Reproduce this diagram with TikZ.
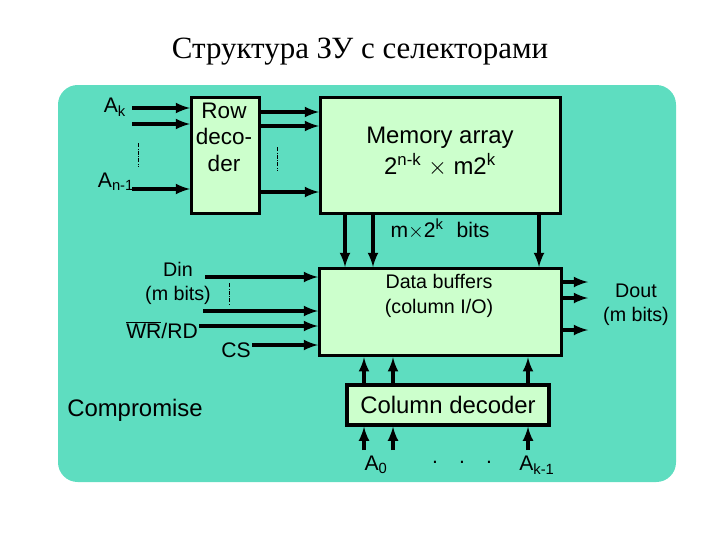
\documentclass[tikz,border=0pt]{standalone}
\usepackage{fontspec}
\setmainfont{Liberation Sans}
\newfontfamily\titlefont{Liberation Serif}
\usetikzlibrary{positioning}
\definecolor{bgteal}{HTML}{5EDDC0}
\definecolor{boxgreen}{HTML}{CCFFCC}
\tikzset{
  blk/.style={draw, line width=2.4pt, fill=boxgreen, inner sep=0pt, align=center},
  wire/.style={line width=2.4pt, -latex},
  dots/.style={densely dashdotted, thin},
  lbl/.style={font=\fontsize{15}{17}\selectfont, align=center, inner sep=1pt}
}
\begin{document}
\begin{tikzpicture}[x=0.025cm, y=-0.025cm]
\useasboundingbox (0,0) rectangle (720,540);
\fill[bgteal, rounded corners=14pt] (58,85) rectangle (676,482);
\node[font=\titlefont\fontsize{22}{26}\selectfont] (title) at (360,52) {Структура ЗУ с селекторами};
% blocks
\node[blk, minimum width=68*0.025cm, minimum height=116*0.025cm, anchor=north west, text depth=0pt] (rowdec) at (190,96) {};
\node[lbl, font=\fontsize{16}{19}\selectfont, anchor=north] at (224,101) {Row\\deco-\\der};
\node[blk, minimum width=240*0.025cm, minimum height=116*0.025cm, anchor=north west] (mem) at (319,96) {};
\node[lbl, font=\fontsize{17}{22}\selectfont] at (440,152) {Memory array\\2\textsuperscript{n-k} $\times$ m2\textsuperscript{k}};
\node[blk, minimum width=242*0.025cm, minimum height=87*0.025cm, anchor=north west] (buf) at (318,267) {};
\node[lbl, font=\fontsize{14}{18}\selectfont] at (439,296) {Data buffers\\(column I/O)};
\node[blk, minimum width=202*0.025cm, minimum height=40*0.025cm, font=\fontsize{17}{19}\selectfont] (coldec) at (448,405) {Column decoder};
% row address
\node[lbl] (ak) at (115,107) {A\textsubscript{k}};
\node[lbl] (an) at (116,182) {A\textsubscript{n-1}};
\coordinate (r1) at (132,108); \coordinate (r2) at (132,124); \coordinate (r3) at (132,189);
\foreach \c in {r1,r2,r3} \draw[wire] (\c) -- (rowdec.west |- \c);
\draw[dots] (138,143) -- (138,167);
\foreach \y in {112,126,192} \draw[wire] (rowdec.east |- 0,\y) -- (mem.west |- 0,\y);
\draw[dots] (277,147) -- (277,170);
% array to buffers
\foreach \x in {345,373,539} \draw[wire] (mem.south -| \x,0) -- (buf.north -| \x,0);
\node[lbl] (bits) at (440,229) {m$\times$2\textsuperscript{k}\,\, bits};
% buffer inputs
\node[lbl, font=\fontsize{14}{17}\selectfont] (din) at (178,283) {Din\\(m bits)};
\node[lbl] (wr) at (162,330) {$\overline{\hbox{WR}}$/RD};
\node[lbl] (cs) at (236,350) {CS};
\coordinate (d1) at (205,277); \coordinate (d2) at (203,311);
\foreach \c in {d1,d2} \draw[wire] (\c) -- (buf.west |- \c);
\draw[wire] (wr.east |- 0,326) -- (buf.west |- 0,326);
\draw[wire] (cs.east |- 0,345) -- (buf.west |- 0,345);
\draw[dots] (229,283) -- (229,305);
% outputs
\foreach \y in {282,298,330} \draw[wire] (buf.east |- 0,\y) -- (588,\y);
\node[lbl, font=\fontsize{14}{17}\selectfont] (dout) at (636,305) {Dout\\(m bits)};
% column decoder
\foreach \x in {364,393,528} {
  \draw[wire] (coldec.north -| \x,0) -- (buf.south -| \x,0);
  \draw[wire] (\x,450) -- (coldec.south -| \x,0);
}
\node[lbl] (a0) at (376,465) {A\textsubscript{0}};
\node[lbl] (adots) at (462,462) {.\quad .\quad .};
\node[lbl] (ak1) at (537,465) {A\textsubscript{k-1}};
\node[lbl, font=\fontsize{17}{19}\selectfont] (comp) at (135,410) {Compromise};
\end{tikzpicture}
\end{document}
